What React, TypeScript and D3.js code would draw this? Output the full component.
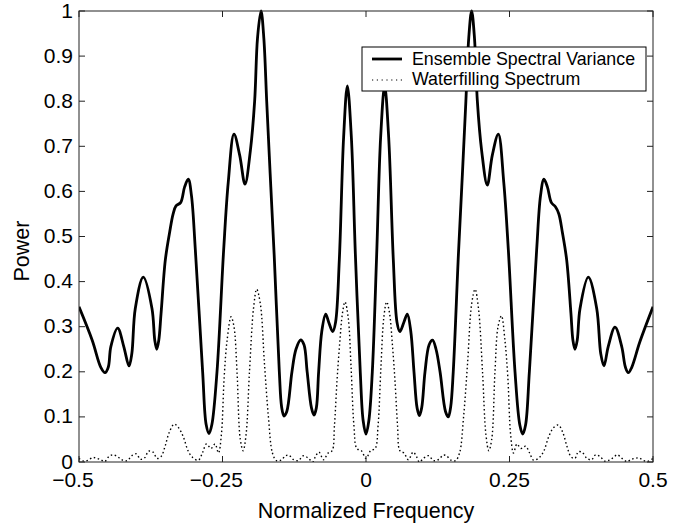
import React from "react";
import * as d3 from "d3";

const xTicks = [-0.5, -0.25, 0, 0.25, 0.5];
const yTicks = [0, 0.1, 0.2, 0.3, 0.4, 0.5, 0.6, 0.7, 0.8, 0.9, 1];
const seriesNames = ["Ensemble Spectral Variance", "Waterfilling Spectrum"];

const ensembleSpectralVariance: [number, number][] = [
  [-0.5, 0.344], [-0.477, 0.27], [-0.462, 0.21], [-0.4547, 0.198], [-0.449, 0.21],
  [-0.4445, 0.256], [-0.4326, 0.297], [-0.422, 0.256], [-0.4129, 0.213], [-0.408, 0.24],
  [-0.402, 0.34], [-0.388, 0.41], [-0.3728, 0.34], [-0.368, 0.27], [-0.3646, 0.25],
  [-0.361, 0.27], [-0.357, 0.33], [-0.3496, 0.448], [-0.342, 0.51], [-0.336, 0.55],
  [-0.331, 0.568], [-0.323, 0.575], [-0.316, 0.61], [-0.3096, 0.627], [-0.304, 0.59],
  [-0.2973, 0.47], [-0.2846, 0.2], [-0.2785, 0.083], [-0.2735, 0.063], [-0.2685, 0.083],
  [-0.2596, 0.2], [-0.248, 0.47], [-0.24, 0.62], [-0.23, 0.727], [-0.22, 0.68],
  [-0.2108, 0.616], [-0.2015, 0.69], [-0.194, 0.8], [-0.189, 0.94], [-0.1829, 1.0],
  [-0.178, 0.94], [-0.173, 0.8], [-0.167, 0.64], [-0.16, 0.46], [-0.151, 0.2],
  [-0.147, 0.122], [-0.1429, 0.102], [-0.138, 0.112], [-0.129, 0.2], [-0.122, 0.25],
  [-0.1138, 0.2705], [-0.108, 0.26], [-0.1025, 0.2], [-0.095, 0.12], [-0.0906, 0.104],
  [-0.0865, 0.12], [-0.0825, 0.2], [-0.077, 0.29], [-0.0703, 0.328], [-0.065, 0.31],
  [-0.058, 0.289], [-0.053, 0.31], [-0.0465, 0.448], [-0.039, 0.72], [-0.0325, 0.834],
  [-0.0255, 0.72], [-0.0185, 0.46], [-0.01, 0.2], [-0.005, 0.092], [0.0, 0.062],
  [0.005, 0.092], [0.011, 0.2], [0.0186, 0.46], [0.0255, 0.72], [0.0325, 0.834],
  [0.0395, 0.72], [0.0476, 0.448], [0.054, 0.31], [0.059, 0.289], [0.066, 0.31],
  [0.072, 0.328], [0.078, 0.29], [0.0836, 0.2], [0.089, 0.12], [0.093, 0.103],
  [0.097, 0.12], [0.1028, 0.2], [0.11, 0.26], [0.116, 0.27], [0.122, 0.25],
  [0.129, 0.2], [0.1385, 0.112], [0.1434, 0.1], [0.1475, 0.122], [0.152, 0.2],
  [0.161, 0.46], [0.168, 0.64], [0.174, 0.8], [0.179, 0.94], [0.184, 1.0],
  [0.189, 0.94], [0.194, 0.8], [0.2015, 0.69], [0.2113, 0.614], [0.22, 0.68],
  [0.2305, 0.727], [0.24, 0.62], [0.248, 0.47], [0.2596, 0.2], [0.268, 0.082],
  [0.273, 0.062], [0.278, 0.082], [0.2846, 0.2], [0.2973, 0.47], [0.304, 0.59],
  [0.31, 0.627], [0.316, 0.61], [0.323, 0.575], [0.33, 0.566], [0.336, 0.55],
  [0.342, 0.51], [0.3496, 0.448], [0.357, 0.33], [0.3605, 0.27], [0.364, 0.25],
  [0.368, 0.27], [0.3728, 0.34], [0.3873, 0.41], [0.402, 0.34], [0.409, 0.24],
  [0.4146, 0.213], [0.422, 0.256], [0.4338, 0.299], [0.4455, 0.256], [0.452, 0.21],
  [0.457, 0.198], [0.463, 0.21], [0.477, 0.266], [0.5, 0.344],
];

const waterfillingSpectrum: [number, number][] = [
  [-0.5, 0.008], [-0.492, 0.002], [-0.484, 0.004], [-0.476, 0.01], [-0.469, 0.008],
  [-0.462, 0.005], [-0.455, 0.001], [-0.448, 0.012], [-0.44, 0.016], [-0.431, 0.01],
  [-0.424, 0.004], [-0.416, 0.003], [-0.408, 0.014], [-0.4, 0.018], [-0.393, 0.006],
  [-0.385, 0.01], [-0.379, 0.024], [-0.371, 0.022], [-0.364, 0.008], [-0.357, 0.012],
  [-0.35, 0.035], [-0.343, 0.065], [-0.334, 0.084], [-0.326, 0.075], [-0.318, 0.055],
  [-0.31, 0.025], [-0.302, 0.01], [-0.292, 0.004], [-0.285, 0.02], [-0.278, 0.04],
  [-0.27, 0.03], [-0.263, 0.04], [-0.257, 0.02], [-0.252, 0.06], [-0.247, 0.19],
  [-0.242, 0.27], [-0.235, 0.322], [-0.23, 0.3], [-0.2247, 0.2], [-0.219, 0.05],
  [-0.214, 0.025], [-0.209, 0.06], [-0.203, 0.2], [-0.196, 0.34], [-0.1904, 0.383],
  [-0.184, 0.35], [-0.177, 0.22], [-0.17, 0.1], [-0.163, 0.02], [-0.156, 0.003],
  [-0.148, 0.004], [-0.14, 0.014], [-0.134, 0.015], [-0.127, 0.006], [-0.118, 0.003],
  [-0.109, 0.014], [-0.1, 0.008], [-0.093, 0.0], [-0.088, 0.012], [-0.082, 0.022],
  [-0.074, 0.005], [-0.066, 0.02], [-0.059, 0.025], [-0.055, 0.08], [-0.0505, 0.18],
  [-0.046, 0.26], [-0.041, 0.33], [-0.0366, 0.355], [-0.031, 0.32], [-0.026, 0.21],
  [-0.021, 0.08], [-0.016, 0.03], [-0.008, 0.025], [0.0, 0.008], [0.008, 0.025],
  [0.016, 0.03], [0.021, 0.08], [0.026, 0.21], [0.031, 0.32], [0.036, 0.355],
  [0.041, 0.33], [0.046, 0.26], [0.0505, 0.18], [0.055, 0.08], [0.059, 0.025],
  [0.066, 0.02], [0.074, 0.005], [0.082, 0.022], [0.088, 0.012], [0.093, 0.0],
  [0.1, 0.008], [0.109, 0.014], [0.118, 0.003], [0.127, 0.006], [0.134, 0.015],
  [0.14, 0.014], [0.148, 0.004], [0.156, 0.003], [0.163, 0.02], [0.17, 0.1],
  [0.177, 0.22], [0.184, 0.35], [0.19, 0.383], [0.196, 0.34], [0.203, 0.2],
  [0.209, 0.06], [0.214, 0.025], [0.219, 0.05], [0.2247, 0.2], [0.23, 0.3],
  [0.236, 0.324], [0.242, 0.27], [0.247, 0.19], [0.252, 0.06], [0.257, 0.02],
  [0.263, 0.04], [0.27, 0.03], [0.278, 0.035], [0.285, 0.02], [0.292, 0.004],
  [0.302, 0.01], [0.31, 0.025], [0.318, 0.055], [0.326, 0.075], [0.335, 0.082],
  [0.343, 0.065], [0.35, 0.035], [0.357, 0.012], [0.364, 0.008], [0.37, 0.023],
  [0.377, 0.021], [0.385, 0.008], [0.393, 0.005], [0.4, 0.016], [0.408, 0.012],
  [0.416, 0.002], [0.424, 0.004], [0.431, 0.01], [0.438, 0.016], [0.446, 0.008],
  [0.455, 0.001], [0.462, 0.006], [0.469, 0.008], [0.476, 0.009], [0.484, 0.003],
  [0.492, 0.002], [0.5, 0.008],
];

const FONT = "'Liberation Sans', Arial, Helvetica, sans-serif";

export default function App() {
  const W = 692, H = 527;
  const left = 79, right = 653, top = 11, bottom = 462;
  const x = d3.scaleLinear().domain([-0.5, 0.5]).range([left, right]);
  const y = d3.scaleLinear().domain([0, 1]).range([bottom, top]);
  const line = d3
    .line<[number, number]>()
    .x((d) => x(d[0]))
    .y((d) => y(d[1]))
    .curve(d3.curveCatmullRom.alpha(0.5));

  const tickFs = 21;
  const tickLen = 6;
  const fmt = (v: number) => String(Math.abs(v));
  const numWidth = (s: string) =>
    s.split("").reduce((a, c) => a + (c === "." ? 0.278 : 0.556), 0) * tickFs;

  return (
    <svg
      width={W}
      height={H}
      style={{ position: "absolute", left: 0, top: 0, background: "#fff" }}
      fontFamily={FONT}
    >
      <rect x={0} y={0} width={W} height={H} fill="#fff" />
      <defs>
        <clipPath id="plotClip">
          <rect x={left} y={top - 2} width={right - left} height={bottom - top + 2} />
        </clipPath>
      </defs>

      <g clipPath="url(#plotClip)">
        <path
          d={line(waterfillingSpectrum) || ""}
          fill="none"
          stroke="#000"
          strokeWidth={1.4}
          strokeDasharray="1.5 2.6"
        />
        <path
          d={line(ensembleSpectralVariance) || ""}
          fill="none"
          stroke="#000"
          strokeWidth={2.8}
          strokeLinejoin="round"
        />
      </g>

      {/* frame */}
      <rect x={left} y={top} width={right - left} height={bottom - top} fill="none" stroke="#222" strokeWidth={1} />

      {/* ticks */}
      {xTicks.map((t) => (
        <g key={"xt" + t}>
          <line x1={x(t)} x2={x(t)} y1={bottom} y2={bottom - tickLen} stroke="#222" />
          <line x1={x(t)} x2={x(t)} y1={top} y2={top + tickLen} stroke="#222" />
          <text x={x(t)} y={481} textAnchor="middle" dominantBaseline="middle" fontSize={tickFs}>
            {fmt(t)}
          </text>
          {t < 0 && (
            <text
              x={x(t) - numWidth(fmt(t)) / 2}
              y={481}
              textAnchor="end"
              dominantBaseline="middle"
              fontSize={tickFs}
            >
              {"\u2212"}
            </text>
          )}
        </g>
      ))}
      {yTicks.map((t) => (
        <g key={"yt" + t}>
          <line x1={left} x2={left + tickLen} y1={y(t)} y2={y(t)} stroke="#222" />
          <line x1={right} x2={right - tickLen} y1={y(t)} y2={y(t)} stroke="#222" />
          <text x={73} y={y(t) + 1} textAnchor="end" dominantBaseline="middle" fontSize={tickFs}>
            {String(t)}
          </text>
        </g>
      ))}

      {/* axis labels */}
      <text x={366} y={512} textAnchor="middle" dominantBaseline="middle" fontSize={21.5}>
        Normalized Frequency
      </text>
      <text
        transform="translate(23,251) rotate(-90)"
        textAnchor="middle"
        dominantBaseline="middle"
        fontSize={21.5}
      >
        Power
      </text>

      {/* legend */}
      <g>
        <rect x={362} y={47} width={284} height={44} fill="#fff" stroke="#000" strokeWidth={1} />
        <line x1={372} x2={402} y1={59} y2={59} stroke="#000" strokeWidth={2.8} />
        <line x1={372} x2={402} y1={80} y2={80} stroke="#000" strokeWidth={1.2} strokeDasharray="1.2 3.6" />
        <text x={412} y={60} dominantBaseline="middle" fontSize={17.8}>
          {seriesNames[0]}
        </text>
        <text x={412} y={80} dominantBaseline="middle" fontSize={17.8}>
          {seriesNames[1]}
        </text>
      </g>
    </svg>
  );
}
